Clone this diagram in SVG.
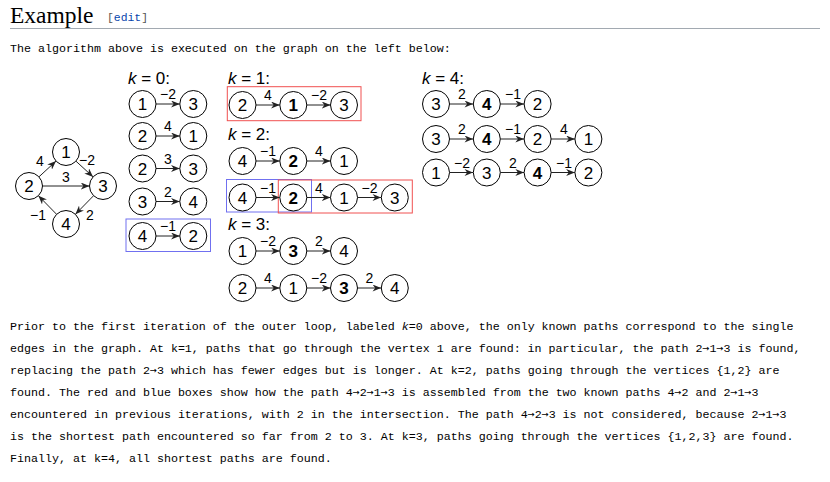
<svg xmlns="http://www.w3.org/2000/svg" width="830" height="482" viewBox="0 0 830 482">
<defs>
<style>
.n circle{fill:#fff;stroke:#000;stroke-width:1}
.n text{font-family:"Liberation Sans",Arial,sans-serif;font-size:17px;text-anchor:middle;fill:#000}
.b text{font-weight:bold}
.e{stroke:#222;stroke-width:1;fill:none;marker-end:url(#arr)}
.lbl{font-family:"Liberation Sans",Arial,sans-serif;font-size:14px;text-anchor:middle;fill:#000}
.k{font-family:"Liberation Sans",Arial,sans-serif;font-size:17px;fill:#000}
.body{font-family:"Liberation Mono","Courier New",monospace;font-size:11.67px;fill:#000}
.ar{font-family:"DejaVu Sans Mono",monospace;font-size:11.63px}
.red{fill:none;stroke:#f05050;stroke-width:1}
.blue{fill:none;stroke:#7070f0;stroke-width:1}
</style>
<marker id="arr" viewBox="0 0 10 8" refX="10" refY="4" markerWidth="9" markerHeight="7" orient="auto" markerUnits="userSpaceOnUse">
<path d="M0,0 L10,4 L0,8 L3,4 z" fill="#222"/>
</marker>
</defs>
<rect width="830" height="482" fill="#fff"/>

<g id="header">
<text x="10" y="23" font-family="'Liberation Serif','Times New Roman',serif" font-size="23.5px" fill="#000">Example</text>
<text x="107" y="21" font-family="'Liberation Mono',monospace" font-size="11.4px"><tspan fill="#555">[</tspan><tspan fill="#0645ad">edit</tspan><tspan fill="#555">]</tspan></text>
<line x1="10" y1="28.5" x2="820" y2="28.5" stroke="#a2a9b1" stroke-width="1"/>
<text class="body" x="10" y="52">The algorithm above is executed on the graph on the left below:</text>
</g>

<g id="boxes">
<rect class="blue" x="126" y="219" width="84.5" height="32.5"/>
<rect class="red" x="227.3" y="86.7" width="133.7" height="34"/>
<rect class="blue" x="226.5" y="179.5" width="85" height="32.5"/>
<rect class="red" x="278.3" y="180" width="134" height="33"/>
</g>

<g id="connectors">
<line class="e" x1="38.9" y1="176.9" x2="56" y2="161.1"/>
<line class="e" x1="75.9" y1="161.1" x2="93.1" y2="176.9"/>
<line class="e" x1="42.5" y1="186" x2="89.5" y2="186"/>
<line class="e" x1="93.6" y1="195.7" x2="75.4" y2="214.3"/>
<line class="e" x1="56.6" y1="214.3" x2="38.4" y2="195.7"/>
<text class="lbl" x="40" y="166">4</text>
<text class="lbl" x="87" y="164.5">−2</text>
<text class="lbl" x="66" y="181.5">3</text>
<text class="lbl" x="90" y="219.5">2</text>
<text class="lbl" x="38" y="220">−1</text>
<line class="e" x1="156" y1="104" x2="179.8" y2="104"/><text class="lbl" x="168" y="99">−2</text>
<line class="e" x1="156" y1="136" x2="179.8" y2="136"/><text class="lbl" x="168" y="131">4</text>
<line class="e" x1="156" y1="168.5" x2="179.8" y2="168.5"/><text class="lbl" x="168" y="163.5">3</text>
<line class="e" x1="156" y1="201.5" x2="179.8" y2="201.5"/><text class="lbl" x="168" y="196.5">2</text>
<line class="e" x1="156" y1="236" x2="179.8" y2="236"/><text class="lbl" x="168" y="231">−1</text>
<line class="e" x1="256" y1="105" x2="279.8" y2="105"/><text class="lbl" x="268" y="100">4</text>
<line class="e" x1="306.8" y1="105" x2="330.5" y2="105"/><text class="lbl" x="319" y="100">−2</text>
<line class="e" x1="256" y1="161" x2="279.8" y2="161"/><text class="lbl" x="268" y="156">−1</text>
<line class="e" x1="306.8" y1="161" x2="330.5" y2="161"/><text class="lbl" x="319" y="156">4</text>
<line class="e" x1="256" y1="197.5" x2="279.8" y2="197.5"/><text class="lbl" x="268" y="192.5">−1</text>
<line class="e" x1="306.8" y1="197.5" x2="330.5" y2="197.5"/><text class="lbl" x="319" y="192.5">4</text>
<line class="e" x1="357.5" y1="197.5" x2="381.3" y2="197.5"/><text class="lbl" x="369.5" y="192.5">−2</text>
<line class="e" x1="256" y1="251" x2="279.8" y2="251"/><text class="lbl" x="268" y="246">−2</text>
<line class="e" x1="306.8" y1="251" x2="330.5" y2="251"/><text class="lbl" x="319" y="246">2</text>
<line class="e" x1="256" y1="288" x2="279.8" y2="288"/><text class="lbl" x="268" y="283">4</text>
<line class="e" x1="306.8" y1="288" x2="330.5" y2="288"/><text class="lbl" x="319" y="283">−2</text>
<line class="e" x1="357.5" y1="288" x2="381.3" y2="288"/><text class="lbl" x="369.5" y="283">2</text>
<line class="e" x1="449.5" y1="104" x2="473.3" y2="104"/><text class="lbl" x="462" y="99">2</text>
<line class="e" x1="500.3" y1="104" x2="524.1" y2="104"/><text class="lbl" x="513" y="99">−1</text>
<line class="e" x1="449.5" y1="139" x2="473.3" y2="139"/><text class="lbl" x="462" y="134">2</text>
<line class="e" x1="500.3" y1="139" x2="524.1" y2="139"/><text class="lbl" x="513" y="134">−1</text>
<line class="e" x1="551.1" y1="139" x2="574.9" y2="139"/><text class="lbl" x="564" y="134">4</text>
<line class="e" x1="449.5" y1="172.5" x2="473.3" y2="172.5"/><text class="lbl" x="462" y="167.5">−2</text>
<line class="e" x1="500.3" y1="172.5" x2="524.1" y2="172.5"/><text class="lbl" x="513" y="167.5">2</text>
<line class="e" x1="551.1" y1="172.5" x2="574.9" y2="172.5"/><text class="lbl" x="564" y="167.5">−1</text>
</g>

<g id="klabels">
<text class="k" x="128" y="84"><tspan font-style="italic">k</tspan> = 0:</text>
<text class="k" x="228" y="84"><tspan font-style="italic">k</tspan> = 1:</text>
<text class="k" x="228" y="140"><tspan font-style="italic">k</tspan> = 2:</text>
<text class="k" x="228" y="230"><tspan font-style="italic">k</tspan> = 3:</text>
<text class="k" x="422" y="83.5"><tspan font-style="italic">k</tspan> = 4:</text>
</g>

<g id="nodes">
<g id="g1" class="n"><circle cx="66" cy="152" r="13.5"/><text x="66" y="158">1</text></g>
<g id="g2" class="n"><circle cx="29" cy="186" r="13.5"/><text x="29" y="192">2</text></g>
<g id="g3" class="n"><circle cx="103" cy="186" r="13.5"/><text x="103" y="192">3</text></g>
<g id="g4" class="n"><circle cx="66" cy="224" r="13.5"/><text x="66" y="230">4</text></g>
<g id="k0r1a" class="n"><circle cx="142.5" cy="104" r="13.5"/><text x="142.5" y="110">1</text></g>
<g id="k0r1b" class="n"><circle cx="193.3" cy="104" r="13.5"/><text x="193.3" y="110">3</text></g>
<g id="k0r2a" class="n"><circle cx="142.5" cy="136" r="13.5"/><text x="142.5" y="142">2</text></g>
<g id="k0r2b" class="n"><circle cx="193.3" cy="136" r="13.5"/><text x="193.3" y="142">1</text></g>
<g id="k0r3a" class="n"><circle cx="142.5" cy="168.5" r="13.5"/><text x="142.5" y="174.5">2</text></g>
<g id="k0r3b" class="n"><circle cx="193.3" cy="168.5" r="13.5"/><text x="193.3" y="174.5">3</text></g>
<g id="k0r4a" class="n"><circle cx="142.5" cy="201.5" r="13.5"/><text x="142.5" y="207.5">3</text></g>
<g id="k0r4b" class="n"><circle cx="193.3" cy="201.5" r="13.5"/><text x="193.3" y="207.5">4</text></g>
<g id="k0r5a" class="n"><circle cx="142.5" cy="236" r="13.5"/><text x="142.5" y="242">4</text></g>
<g id="k0r5b" class="n"><circle cx="193.3" cy="236" r="13.5"/><text x="193.3" y="242">2</text></g>
<g id="k1r1a" class="n"><circle cx="242.5" cy="105" r="13.5"/><text x="242.5" y="111">2</text></g>
<g id="k1r1b" class="n b"><circle cx="293.3" cy="105" r="13.5"/><text x="293.3" y="111">1</text></g>
<g id="k1r1c" class="n"><circle cx="344" cy="105" r="13.5"/><text x="344" y="111">3</text></g>
<g id="k2r1a" class="n"><circle cx="242.5" cy="161" r="13.5"/><text x="242.5" y="167">4</text></g>
<g id="k2r1b" class="n b"><circle cx="293.3" cy="161" r="13.5"/><text x="293.3" y="167">2</text></g>
<g id="k2r1c" class="n"><circle cx="344" cy="161" r="13.5"/><text x="344" y="167">1</text></g>
<g id="k2r2a" class="n"><circle cx="242.5" cy="197.5" r="13.5"/><text x="242.5" y="203.5">4</text></g>
<g id="k2r2b" class="n b"><circle cx="293.3" cy="197.5" r="13.5"/><text x="293.3" y="203.5">2</text></g>
<g id="k2r2c" class="n"><circle cx="344" cy="197.5" r="13.5"/><text x="344" y="203.5">1</text></g>
<g id="k2r2d" class="n"><circle cx="394.8" cy="197.5" r="13.5"/><text x="394.8" y="203.5">3</text></g>
<g id="k3r1a" class="n"><circle cx="242.5" cy="251" r="13.5"/><text x="242.5" y="257">1</text></g>
<g id="k3r1b" class="n b"><circle cx="293.3" cy="251" r="13.5"/><text x="293.3" y="257">3</text></g>
<g id="k3r1c" class="n"><circle cx="344" cy="251" r="13.5"/><text x="344" y="257">4</text></g>
<g id="k3r2a" class="n"><circle cx="242.5" cy="288" r="13.5"/><text x="242.5" y="294">2</text></g>
<g id="k3r2b" class="n"><circle cx="293.3" cy="288" r="13.5"/><text x="293.3" y="294">1</text></g>
<g id="k3r2c" class="n b"><circle cx="344" cy="288" r="13.5"/><text x="344" y="294">3</text></g>
<g id="k3r2d" class="n"><circle cx="394.8" cy="288" r="13.5"/><text x="394.8" y="294">4</text></g>
<g id="k4r1a" class="n"><circle cx="436" cy="104" r="13.5"/><text x="436" y="110">3</text></g>
<g id="k4r1b" class="n b"><circle cx="486.8" cy="104" r="13.5"/><text x="486.8" y="110">4</text></g>
<g id="k4r1c" class="n"><circle cx="537.6" cy="104" r="13.5"/><text x="537.6" y="110">2</text></g>
<g id="k4r2a" class="n"><circle cx="436" cy="139" r="13.5"/><text x="436" y="145">3</text></g>
<g id="k4r2b" class="n b"><circle cx="486.8" cy="139" r="13.5"/><text x="486.8" y="145">4</text></g>
<g id="k4r2c" class="n"><circle cx="537.6" cy="139" r="13.5"/><text x="537.6" y="145">2</text></g>
<g id="k4r2d" class="n"><circle cx="588.4" cy="139" r="13.5"/><text x="588.4" y="145">1</text></g>
<g id="k4r3a" class="n"><circle cx="436" cy="172.5" r="13.5"/><text x="436" y="178.5">1</text></g>
<g id="k4r3b" class="n"><circle cx="486.8" cy="172.5" r="13.5"/><text x="486.8" y="178.5">3</text></g>
<g id="k4r3c" class="n b"><circle cx="537.6" cy="172.5" r="13.5"/><text x="537.6" y="178.5">4</text></g>
<g id="k4r3d" class="n"><circle cx="588.4" cy="172.5" r="13.5"/><text x="588.4" y="178.5">2</text></g>
</g>

<g id="paragraph">
<text class="body" x="10" y="330">Prior to the first iteration of the outer loop, labeled <tspan font-style="italic">k</tspan>=0 above, the only known paths correspond to the single</text>
<text class="body" x="10" y="352">edges in the graph. At k=1, paths that go through the vertex 1 are found: in particular, the path 2<tspan class="ar">→</tspan>1<tspan class="ar">→</tspan>3 is found,</text>
<text class="body" x="10" y="374">replacing the path 2<tspan class="ar">→</tspan>3 which has fewer edges but is longer. At k=2, paths going through the vertices {1,2} are</text>
<text class="body" x="10" y="396">found. The red and blue boxes show how the path 4<tspan class="ar">→</tspan>2<tspan class="ar">→</tspan>1<tspan class="ar">→</tspan>3 is assembled from the two known paths 4<tspan class="ar">→</tspan>2 and 2<tspan class="ar">→</tspan>1<tspan class="ar">→</tspan>3</text>
<text class="body" x="10" y="418">encountered in previous iterations, with 2 in the intersection. The path 4<tspan class="ar">→</tspan>2<tspan class="ar">→</tspan>3 is not considered, because 2<tspan class="ar">→</tspan>1<tspan class="ar">→</tspan>3</text>
<text class="body" x="10" y="440">is the shortest path encountered so far from 2 to 3. At k=3, paths going through the vertices {1,2,3} are found.</text>
<text class="body" x="10" y="462">Finally, at k=4, all shortest paths are found.</text>
</g>
</svg>
